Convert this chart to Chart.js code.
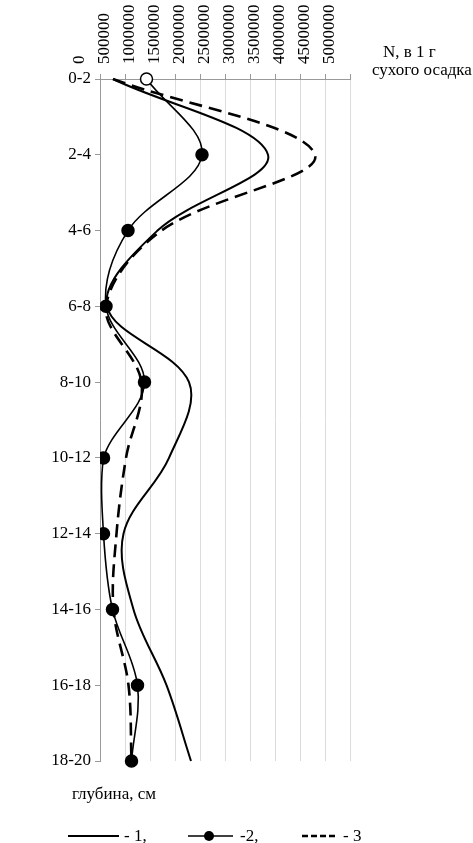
<!DOCTYPE html>
<html>
<head>
<meta charset="utf-8">
<script src="https://cdn.jsdelivr.net/npm/chart.js@4/dist/chart.umd.min.js"></script>
<style>
  html, body { margin: 0; padding: 0; background: #fff; }
  #wrap { position: relative; width: 473px; height: 843px; }
  canvas { display: block; }
</style>
</head>
<body>
<div id="wrap"><canvas id="c" width="473" height="843"></canvas></div>
<script>
// ---- data ----
const depths = ['0-2','2-4','4-6','6-8','8-10','10-12','12-14','14-16','16-18','18-20'];
const series1 = [260000, 3360000, 1150000, 140000, 1780000, 1380000, 470000, 670000, 1330000, 1820000];
const series2 = [930000, 2040000, 560000, 120000, 890000, 70000, 70000, 250000, 750000, 630000];
const series3 = [260000, 4300000, 1230000, 120000, 830000, 520000, 330000, 270000, 570000, 630000];
const xTicks = [0, 500000, 1000000, 1500000, 2000000, 2500000, 3000000, 3500000, 4000000, 4500000, 5000000];
const seriesNames = ['- 1,', '-2,', '- 3'];
const unitLine1 = 'N, в 1 г';
const unitLine2 = 'сухого осадка';
const depthTitle = 'глубина, см';

const FONT = '"Liberation Serif", "Times New Roman", serif';

const textPlugin = {
  id: 'texts',
  afterDraw(chart) {
    const ctx = chart.ctx;
    ctx.save();
    ctx.fillStyle = '#000';
    ctx.font = '17px ' + FONT;
    ctx.textBaseline = 'alphabetic';
    ctx.textAlign = 'left';
    ctx.fillText(unitLine1, 383, 57);
    ctx.fillText(unitLine2, 372, 75);
    ctx.fillText(depthTitle, 72, 799);

    // legend
    const ly = 836;
    const ds = chart.data.datasets;
    // 1: solid
    ctx.strokeStyle = '#000';
    ctx.lineWidth = ds[0].borderWidth;
    ctx.setLineDash([]);
    ctx.beginPath(); ctx.moveTo(68, ly); ctx.lineTo(119, ly); ctx.stroke();
    ctx.fillText(seriesNames[0], 124, 841);
    // 2: line with marker
    ctx.lineWidth = ds[1].borderWidth;
    ctx.beginPath(); ctx.moveTo(188, ly); ctx.lineTo(233, ly); ctx.stroke();
    ctx.beginPath(); ctx.arc(209, ly, 5, 0, Math.PI * 2); ctx.fill();
    ctx.fillText(seriesNames[1], 240, 841);
    // 3: dashed
    ctx.lineWidth = ds[2].borderWidth;
    ctx.setLineDash([6, 3]);
    ctx.beginPath(); ctx.moveTo(302, ly); ctx.lineTo(338, ly); ctx.stroke();
    ctx.setLineDash([]);
    ctx.fillText(seriesNames[2], 343, 841);
    ctx.restore();
  }
};

new Chart(document.getElementById('c'), {
  type: 'line',
  data: {
    labels: depths,
    datasets: [
      {
        label: '1',
        data: series1,
        borderColor: '#000',
        borderWidth: 2,
        pointRadius: 0,
        tension: 0.35,
        fill: false
      },
      {
        label: '2',
        data: series2,
        borderColor: '#000',
        borderWidth: 1.6,
        pointRadius: 6,
        pointBorderWidth: 1.5,
        pointBorderColor: '#000',
        pointBackgroundColor: series2.map((v, i) => i === 0 ? '#fff' : '#000'),
        tension: 0.35,
        fill: false
      },
      {
        label: '3',
        data: series3,
        borderColor: '#000',
        borderWidth: 2.6,
        borderDash: [13, 7],
        pointRadius: 0,
        tension: 0.35,
        fill: false
      }
    ]
  },
  options: {
    indexAxis: 'y',
    responsive: false,
    devicePixelRatio: 1,
    animation: false,
    events: [],
    layout: { padding: { left: 0, top: 0, right: 123, bottom: 82 } },
    plugins: {
      legend: { display: false },
      tooltip: { enabled: false },
      title: { display: false }
    },
    scales: {
      x: {
        type: 'linear',
        position: 'top',
        min: 0,
        max: 5000000,
        afterBuildTicks(scale) { scale.ticks = xTicks.map(v => ({ value: v })); },
        afterFit(scale) { scale.height = 79; },
        ticks: {
          minRotation: 90,
          maxRotation: 90,
          autoSkip: false,
          padding: 10,
          color: '#000',
          font: { family: FONT, size: 17 },
          callback: (v) => String(v)
        },
        grid: {
          color: '#dcdcdc',
          lineWidth: 1,
          drawTicks: true,
          tickLength: 5,
          tickColor: '#999'
        },
        border: { display: true, color: '#999', width: 1 }
      },
      y: {
        type: 'category',
        offset: false,
        afterFit(scale) { scale.width = 100; },
        ticks: {
          autoSkip: false,
          padding: 4,
          color: '#000',
          font: { family: FONT, size: 17 }
        },
        grid: {
          drawOnChartArea: false,
          drawTicks: true,
          tickLength: 5,
          tickColor: '#999',
          offset: false
        },
        border: { display: true, color: '#999', width: 1 }
      }
    }
  },
  plugins: [textPlugin]
});
</script>
</body>
</html>
